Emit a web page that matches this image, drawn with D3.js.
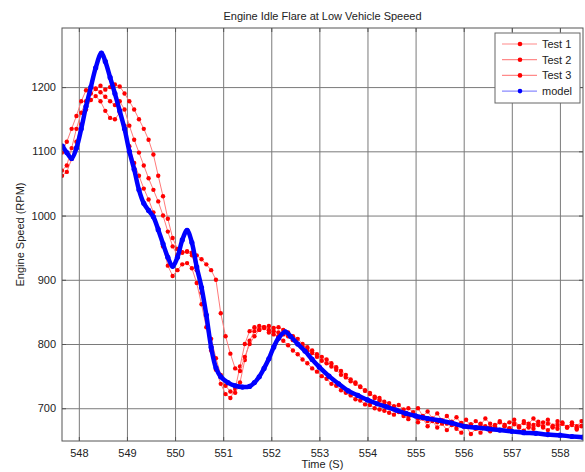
<!DOCTYPE html>
<html>
<head>
<meta charset="utf-8">
<script src="https://cdn.jsdelivr.net/npm/d3@7/dist/d3.min.js"></script>
<style>
  body { margin: 0; background: #fff; }
  text { font-family: "Liberation Sans", Arial, sans-serif; fill: #222; }
  .grid line { stroke: #7a7a7a; stroke-width: 1; }
  .eje path { display: none; }
  .eje line { stroke: #555; }
  .eje text { font-size: 11px; }
</style>
</head>
<body>
<div id="grafico"></div>
<script>
// logged runs share one sampling clock
const sampleStart = 547.65;
const samplePeriod = 0.1;

const test1 = [
  1062, 1068, 1088, 1115, 1142, 1165, 1180, 1186, 1178, 1163,
  1152, 1150, 1160, 1140, 1108, 1082, 1062, 1042, 1025, 1005,
  980, 952, 922, 906, 915, 924, 926, 918, 895, 862,
  826, 790, 760, 738, 722, 716, 730, 765, 800, 820,
  826, 822, 825, 818, 815, 812, 805, 798, 790, 784,
  776, 770, 762, 757, 750, 746, 738, 735, 728, 724,
  720, 714, 712, 706, 705, 700, 698, 696, 693, 690,
  696, 688, 683, 690, 678, 684, 672, 680, 670, 676,
  666, 674, 668, 662, 672, 660, 668, 662, 670, 664,
  672, 666, 674, 668, 676, 670, 665, 674, 668, 676,
  670, 666, 673, 668, 676, 670, 674, 667, 672
];

const test2 = [
  1070, 1078, 1105, 1135, 1160, 1178, 1190, 1197, 1192, 1185,
  1178, 1172, 1178, 1165, 1140, 1118, 1098, 1078, 1058, 1040,
  1022, 1000, 975, 952, 938, 942, 944, 938, 915, 880,
  845, 808, 778, 752, 735, 726, 724, 740, 775, 805,
  820, 828, 826, 822, 820, 818, 815, 812, 806, 800,
  796, 790, 786, 780, 774, 770, 765, 760, 752, 748,
  742, 738, 733, 727, 724, 718, 716, 710, 708, 703,
  705, 698, 700, 694, 700, 688, 695, 684, 692, 681,
  688, 678, 686, 676, 682, 672, 680, 674, 684, 676,
  670, 680, 674, 678, 682, 672, 680, 676, 684, 674,
  678, 682, 672, 680, 676, 670, 678, 672, 680
];

const test3 = [
  1098, 1115, 1135, 1155, 1178, 1195, 1200, 1198, 1202, 1196,
  1200, 1204, 1201, 1190, 1178, 1165, 1150, 1135, 1118, 1095,
  1062, 1030, 995, 965, 948, 943, 944, 942, 938, 932,
  924, 915, 900, 848, 812, 785, 762, 758, 780, 800,
  812, 822, 826, 828, 825, 826, 822, 818, 812, 808,
  800, 795, 790, 784, 780, 776, 770, 764, 758, 752,
  745, 740, 734, 728, 722, 716, 712, 706, 702, 698,
  694, 692, 688, 690, 684, 686, 680, 683, 678, 681,
  676, 679, 674, 677, 672, 675, 670, 676, 672, 670,
  674, 678, 672, 669, 675, 671, 677, 670, 674, 679,
  672, 676, 670, 674, 678, 671, 675, 669, 673
];

// simulated engine speed
const modelTime = [
  547.66, 547.75, 547.85, 547.95, 548.05, 548.15, 548.25, 548.35, 548.47, 548.55,
  548.65, 548.75, 548.85, 548.95, 549.05, 549.15, 549.25, 549.35, 549.45, 549.55,
  549.65, 549.75, 549.85, 549.95, 550.05, 550.15, 550.25, 550.35, 550.45, 550.55,
  550.65, 550.75, 550.85, 550.95, 551.1, 551.25, 551.4, 551.55, 551.65, 551.75,
  551.85, 551.95, 552.05, 552.15, 552.29, 552.4, 552.55, 552.7, 552.85, 553.0,
  553.2, 553.4, 553.6, 553.8, 554.0, 554.2, 554.4, 554.6, 554.8, 555.0,
  555.25, 555.5, 555.75, 556.0, 556.25, 556.5, 556.75, 557.0, 557.25, 557.5,
  557.75, 558.0, 558.25, 558.48
];
const modelRpm = [
  1108, 1098, 1089, 1105, 1135, 1170, 1200, 1230, 1253, 1240,
  1215, 1190, 1163, 1135, 1100, 1072, 1040, 1019, 1008, 998,
  978, 956, 935, 921, 935, 962, 977, 958, 920, 888,
  845, 795, 763, 749, 740, 735, 733, 734, 740, 749,
  762, 777, 795, 809, 819, 812, 800, 789, 776, 764,
  750, 738, 727, 720, 713, 707, 702, 697, 692, 688,
  684, 681, 677, 672, 670, 668, 666, 664, 662, 661,
  659, 658, 656, 655
];

const xTicks = [548, 549, 550, 551, 552, 553, 554, 555, 556, 557, 558];
const yTicks = [700, 800, 900, 1000, 1100, 1200];
const seriesNames = ["Test 1", "Test 2", "Test 3", "model"];

const w = 585;
const h = 472;
const margin = ({ top: 28, right: 2, bottom: 31, left: 62 });

const svg = d3.select("#grafico")
  .append("svg")
  .attr("width", w)
  .attr("height", h);

const xScale = d3.scaleLinear()
  .domain([547.65, 558.48])
  .range([margin.left, w - margin.right]);

const yScale = d3.scaleLinear()
  .domain([649, 1292])
  .range([h - margin.bottom, margin.top]);

const plotW = w - margin.left - margin.right;
const plotH = h - margin.top - margin.bottom;

// Rejilla
svg.append("g")
  .attr("class", "grid")
  .attr("transform", `translate(0,${h - margin.bottom})`)
  .call(d3.axisBottom(xScale).tickValues(xTicks).tickSize(-plotH).tickFormat(""))
  .call(g => g.select(".domain").remove());

svg.append("g")
  .attr("class", "grid")
  .attr("transform", `translate(${margin.left},0)`)
  .call(d3.axisLeft(yScale).tickValues(yTicks).tickSize(-plotW).tickFormat(""))
  .call(g => g.select(".domain").remove());

// Ejes con marcas hacia dentro
svg.append("g")
  .attr("class", "eje")
  .attr("transform", `translate(0,${h - margin.bottom})`)
  .call(d3.axisBottom(xScale).tickValues(xTicks).tickSize(-4).tickPadding(8).tickFormat(d3.format("d")));

svg.append("g")
  .attr("class", "eje")
  .attr("transform", `translate(0,${margin.top})`)
  .call(d3.axisTop(xScale).tickValues(xTicks).tickSize(-4).tickFormat(""));

svg.append("g")
  .attr("class", "eje")
  .attr("transform", `translate(${margin.left},0)`)
  .call(d3.axisLeft(yScale).tickValues(yTicks).tickSize(-4).tickPadding(6).tickFormat(d3.format("d")));

svg.append("g")
  .attr("class", "eje")
  .attr("transform", `translate(${w - margin.right},0)`)
  .call(d3.axisRight(yScale).tickValues(yTicks).tickSize(-4).tickFormat(""));

// Series
svg.append("clipPath")
  .attr("id", "recorte")
  .append("rect")
  .attr("x", margin.left)
  .attr("y", margin.top)
  .attr("width", plotW)
  .attr("height", plotH);

const datos = svg.append("g").attr("clip-path", "url(#recorte)");

const toPoints = arr => arr.map((v, i) => ({ t: sampleStart + i * samplePeriod, rpm: v }));
const tests = [test1, test2, test3].map(toPoints);
const model = modelTime.map((t, i) => ({ t: t, rpm: modelRpm[i] }));

const line = d3.line()
  .x(d => xScale(d.t))
  .y(d => yScale(d.rpm));

tests.forEach(serie => {
  datos.append("path")
    .datum(serie)
    .attr("fill", "none")
    .attr("stroke", "#ff7a7a")
    .attr("stroke-width", 1)
    .attr("d", line);

  datos.append("g")
    .selectAll("circle")
    .data(serie)
    .enter()
    .append("circle")
    .attr("cx", d => xScale(d.t))
    .attr("cy", d => yScale(d.rpm))
    .attr("r", 2.2)
    .attr("fill", "#f00");
});

datos.append("path")
  .datum(model)
  .attr("fill", "none")
  .attr("stroke", "#0000ff")
  .attr("stroke-width", 4.5)
  .attr("stroke-linejoin", "round")
  .attr("d", line.curve(d3.curveCatmullRom));

datos.append("g")
  .selectAll("circle")
  .data(model)
  .enter()
  .append("circle")
  .attr("cx", d => xScale(d.t))
  .attr("cy", d => yScale(d.rpm))
  .attr("r", 2.6)
  .attr("fill", "#0000ff");

// Marco
svg.append("rect")
  .attr("x", margin.left)
  .attr("y", margin.top)
  .attr("width", plotW)
  .attr("height", plotH)
  .attr("fill", "none")
  .attr("stroke", "#555");

// Título y etiquetas
svg.append("text")
  .attr("x", margin.left + plotW / 2)
  .attr("y", 20)
  .style("font-size", "11px")
  .style("text-anchor", "middle")
  .text("Engine Idle Flare at Low Vehicle Speeed");

svg.append("text")
  .attr("x", margin.left + plotW / 2)
  .attr("y", 468)
  .style("font-size", "11px")
  .style("text-anchor", "middle")
  .text("Time (S)");

svg.append("text")
  .attr("transform", "rotate(-90)")
  .attr("x", -(margin.top + plotH / 2))
  .attr("y", 24)
  .style("font-size", "11px")
  .style("text-anchor", "middle")
  .text("Engine Speed (RPM)");

// Leyenda
const legend = svg.append("g").attr("transform", "translate(495,33)");

legend.append("rect")
  .attr("width", 85)
  .attr("height", 70)
  .attr("fill", "#fff")
  .attr("stroke", "#666");

const legendColors = [
  { line: "#ff8a8a", dot: "#f00" },
  { line: "#ff8a8a", dot: "#f00" },
  { line: "#ff8a8a", dot: "#f00" },
  { line: "#8a8aff", dot: "#00f" }
];

const item = legend.selectAll(".item")
  .data(seriesNames)
  .enter()
  .append("g")
  .attr("class", "item")
  .attr("transform", (d, i) => `translate(0,${11 + i * 15.7})`);

item.append("line")
  .attr("x1", 7)
  .attr("x2", 42)
  .attr("stroke", (d, i) => legendColors[i].line)
  .attr("stroke-width", 1.2);

item.append("circle")
  .attr("cx", 25)
  .attr("r", 2.3)
  .attr("fill", (d, i) => legendColors[i].dot);

item.append("text")
  .attr("x", 47)
  .attr("dy", "0.35em")
  .style("font-size", "11px")
  .text(d => d);
</script>
</body>
</html>
